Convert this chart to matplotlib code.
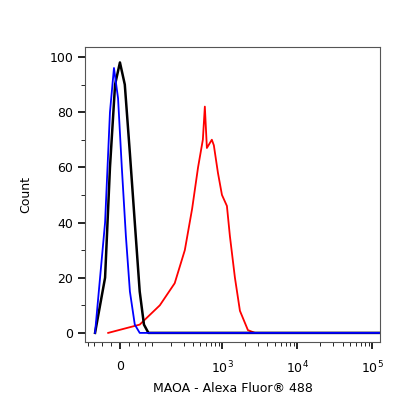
import numpy as np
import matplotlib
matplotlib.use('Agg')
from matplotlib import pyplot as plt

# intensity values / counts
red_x = [-32, 56, 135, 225, 312, 393, 473, 549, 584, 622, 725, 771, 875, 990, 1153, 1265, 1475, 1720, 2198, 2726, 126000]
red_y = [0, 3, 10, 18, 30, 45, 60, 70, 82, 67, 70, 68, 58, 50, 46, 35, 20, 8, 1, 0, 0]
black_x = [-73, -41, -27, -13, 0, 13, 27, 41, 56, 70, 86, 126000]
black_y = [0, 20, 60, 90, 98, 90, 65, 40, 15, 3, 0, 0]
blue_x = [-73, -41, -27, -16, -5, 5, 16, 27, 41, 56, 126000]
blue_y = [0, 40, 80, 96, 85, 60, 35, 15, 3, 0, 0]

xticks = [0, 1e3, 1e4, 1e5]
xticklabels = ['0', '$10^3$', '$10^4$', '$10^5$']
yticks = [0, 20, 40, 60, 80, 100]

fig = plt.figure(figsize=(4.16, 4.16), dpi=100)
ax = fig.add_axes([85/416, 74/416, 295/416, 295/416])
ax.plot(red_x, red_y, color='red', lw=1.3)
ax.plot(black_x, black_y, color='black', lw=1.8)
ax.plot(blue_x, blue_y, color='blue', lw=1.3)

ax.set_xscale('asinh', linear_width=87)
ax.set_xlim(-112, 126000)
ax.set_ylim(-3.3, 103.6)
ax.set_xticks(xticks)
ax.set_xticklabels(xticklabels, fontsize=9)
minors = [v for d in [100, 1000, 10000] for v in np.arange(2, 10) * d] + [-100, -75, -50, -25, 25, 50, 75, 100]
ax.set_xticks(minors, minor=True)
ax.set_yticks(yticks)
ax.set_yticks(np.arange(10, 100, 20), minor=True)
ax.tick_params(labelsize=9, length=5, width=1.2)
ax.tick_params(which='minor', length=3)
ax.tick_params(axis='x', pad=8)
ax.set_xlabel('MAOA - Alexa Fluor® 488', fontsize=9)
ax.set_ylabel('Count', fontsize=9, labelpad=12)
for s in ax.spines.values():
    s.set_color('#555555')

plt.savefig('out.png', dpi=100)
